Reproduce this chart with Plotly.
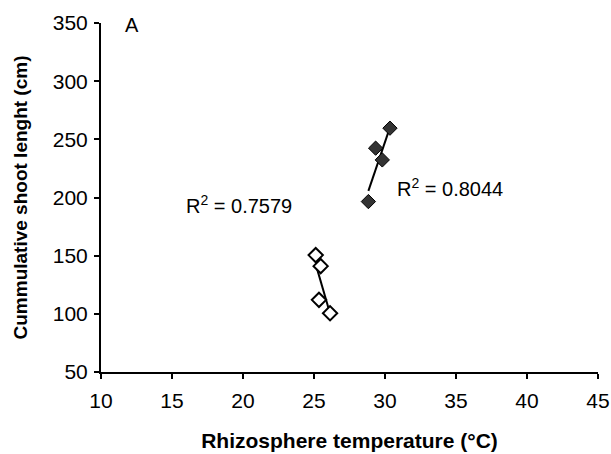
import numpy as np
import plotly.graph_objects as go

# Rhizosphere temperature (°C) and cumulative shoot length (cm)
temp_open = [25.12, 25.47, 25.35, 26.13]
shoot_open = [150.5, 141.0, 112.0, 100.5]
temp_filled = [30.35, 29.34, 29.81, 28.83]
shoot_filled = [259.6, 242.4, 232.3, 196.5]

r2_labels = ["R<sup>2</sup> = 0.7579", "R<sup>2</sup> = 0.8044"]
x_ticks = [10, 15, 20, 25, 30, 35, 40, 45]
y_ticks = [50, 100, 150, 200, 250, 300, 350]

FONT = "Liberation Sans, Arial, sans-serif"


def trend(xs, ys):
    k, b = np.polyfit(xs, ys, 1)
    xr = np.array([min(xs), max(xs)])
    return xr, k * xr + b


fig = go.Figure()

for xs, ys in [(temp_open, shoot_open), (temp_filled, shoot_filled)]:
    tx, ty = trend(xs, ys)
    fig.add_trace(go.Scatter(x=tx, y=ty, mode="lines",
                             line=dict(color="black", width=2),
                             showlegend=False, hoverinfo="skip"))

fig.add_trace(go.Scatter(x=temp_open, y=shoot_open, mode="markers",
                         marker=dict(symbol="diamond", size=11, color="white",
                                     line=dict(color="black", width=2)),
                         showlegend=False))
fig.add_trace(go.Scatter(x=temp_filled, y=shoot_filled, mode="markers",
                         marker=dict(symbol="diamond", size=11, color="#333333",
                                     line=dict(color="black", width=1)),
                         showlegend=False))

fig.update_layout(
    width=611, height=454,
    margin=dict(l=101, r=13, t=23, b=82),
    paper_bgcolor="white", plot_bgcolor="white",
    font=dict(family=FONT, size=20, color="black"),
    xaxis=dict(range=[10, 45], tickvals=x_ticks, showgrid=False, zeroline=False,
               showline=True, linecolor="black", linewidth=2, automargin=False,
               ticks="outside", ticklen=5, tickwidth=2, tickcolor="black",
               ticklabelstandoff=4, tickfont=dict(size=21),
               title=dict(text="<b>Rhizosphere temperature (°C)</b>",
                          font=dict(size=21), standoff=22)),
    yaxis=dict(range=[50, 350], tickvals=y_ticks, showgrid=False, zeroline=False,
               showline=True, linecolor="black", linewidth=2, automargin=False,
               ticks="outside", ticklen=5, tickwidth=2, tickcolor="black",
               ticklabelstandoff=2, tickfont=dict(size=21),
               title=dict(text="<b>Cummulative shoot lenght (cm)</b>",
                          font=dict(size=19), standoff=20)),
    annotations=[
        dict(text=r2_labels[0], x=15.85, y=193.6, xref="x", yref="y",
             xanchor="left", yanchor="middle", showarrow=False),
        dict(text=r2_labels[1], x=30.7, y=208.2, xref="x", yref="y",
             xanchor="left", yanchor="middle", showarrow=False),
        dict(text="A", x=11.55, y=348.4, xref="x", yref="y",
             xanchor="left", yanchor="middle", showarrow=False),
    ],
)

fig.write_html("out.html")
